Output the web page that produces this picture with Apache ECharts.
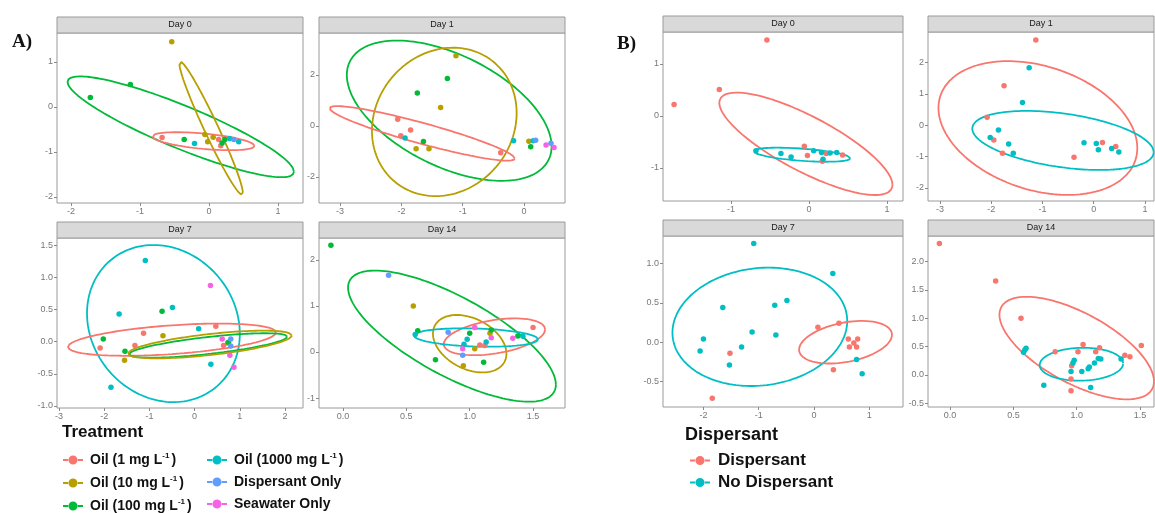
<!DOCTYPE html>
<html><head><meta charset="utf-8">
<script src="https://cdn.jsdelivr.net/npm/echarts@6/dist/echarts.min.js"></script>
<style>html,body{margin:0;padding:0;background:#fff}#c{width:1155px;height:513px}</style>
</head><body><div id="c"></div>
<script>
// ---------- categories ----------
const TREATMENTS = ['Oil (1 mg L-1)','Oil (10 mg L-1)','Oil (100 mg L-1)','Oil (1000 mg L-1)','Dispersant Only','Seawater Only'];
const DISPERSANT = ['Dispersant','No Dispersant'];
const DAYS = ['Day 0','Day 1','Day 7','Day 14'];

// ---------- tick labels ----------
const A_D0_XT = ['-2','-1','0','1'];           const A_D0_YT = ['-2','-1','0','1'];
const A_D1_XT = ['-3','-2','-1','0'];          const A_D1_YT = ['-2','0','2'];
const A_D7_XT = ['-3','-2','-1','0','1','2'];  const A_D7_YT = ['-1.0','-0.5','0.0','0.5','1.0','1.5'];
const A_D14_XT = ['0.0','0.5','1.0','1.5'];    const A_D14_YT = ['-1','0','1','2'];
const B_D0_XT = ['-1','0','1'];                const B_D0_YT = ['-1','0','1'];
const B_D1_XT = ['-3','-2','-1','0','1'];      const B_D1_YT = ['-2','-1','0','1','2','3'];
const B_D7_XT = ['-2','-1','0','1'];           const B_D7_YT = ['-0.5','0.0','0.5','1.0'];
const B_D14_XT = ['0.0','0.5','1.0','1.5'];    const B_D14_YT = ['-0.5','0.0','0.5','1.0','1.5','2.0'];

// ---------- points [x, y, group] ----------
const A_DAY0 = [[-1.72,0.21,2],[-1.14,0.50,2],[-0.54,1.45,1],[-0.68,-0.68,0],[-0.36,-0.72,2],[-0.21,-0.81,3],
  [-0.06,-0.61,1],[-0.02,-0.77,1],[0.06,-0.67,1],[0.14,-0.72,0],[0.17,-0.86,0],[0.19,-0.80,2],[0.23,-0.72,2],
  [0.30,-0.70,3],[0.36,-0.72,4],[0.43,-0.77,3]];
const A_DAY1 = [[-1.11,2.75,1],[-1.25,1.86,2],[-1.74,1.29,2],[-1.36,0.73,1],[-2.06,0.26,0],[-1.85,-0.16,0],
  [-2.01,-0.38,0],[-1.94,-0.47,3],[-1.64,-0.61,2],[-1.76,-0.89,1],[-1.55,-0.89,1],[-0.38,-1.05,0],[-0.17,-0.58,3],
  [0.08,-0.60,1],[0.11,-0.81,2],[0.15,-0.58,3],[0.19,-0.56,4],[0.36,-0.75,5],[0.44,-0.68,4],[0.49,-0.84,5]];
const A_DAY7 = [[-1.09,1.26,3],[0.35,0.87,5],[-1.67,0.43,3],[-0.72,0.47,2],[-0.49,0.53,3],[0.09,0.20,3],[0.47,0.24,0],
  [-1.13,0.13,0],[-0.70,0.09,1],[-2.02,0.04,2],[-2.09,-0.10,0],[-1.32,-0.06,0],[-1.54,-0.15,2],[-1.55,-0.29,1],
  [-1.85,-0.71,3],[0.36,-0.35,3],[0.61,0.04,5],[0.80,0.04,4],[0.64,-0.06,0],[0.73,-0.02,1],[0.75,-0.01,2],
  [0.80,-0.07,4],[0.78,-0.21,5],[0.87,-0.40,5]];
const A_DAY14 = [[-0.095,2.32,2],[0.36,1.67,4],[0.555,1.0,1],[0.59,0.46,2],[0.57,0.38,3],[0.83,0.43,4],[1.04,0.53,5],
  [1.0,0.41,2],[0.98,0.28,3],[0.955,0.17,3],[0.945,0.07,5],[0.945,-0.07,4],[0.95,-0.30,1],[1.04,0.07,1],[1.08,0.15,0],
  [1.12,0.14,0],[1.16,0.41,1],[1.17,0.48,2],[1.17,0.31,5],[1.13,0.22,3],[0.73,-0.17,2],[1.11,-0.22,2],[1.34,0.30,5],
  [1.38,0.35,2],[1.42,0.34,3],[1.50,0.53,0]];
const B_DAY0 = [[-0.54,1.46,0],[-1.15,0.51,0],[-1.73,0.22,0],[-0.68,-0.67,1],[-0.36,-0.72,1],[-0.23,-0.79,1],
  [-0.06,-0.58,0],[-0.02,-0.76,0],[0.06,-0.67,1],[0.16,-0.70,1],[0.22,-0.72,0],[0.18,-0.83,1],[0.17,-0.87,0],
  [0.27,-0.71,1],[0.355,-0.70,1],[0.43,-0.75,0]];
const B_DAY1 = [[-1.13,2.71,0],[-1.26,1.83,1],[-1.75,1.26,0],[-1.39,0.72,1],[-2.08,0.25,0],[-1.86,-0.15,1],
  [-2.02,-0.39,1],[-1.95,-0.47,0],[-1.66,-0.60,1],[-1.78,-0.89,0],[-1.57,-0.89,1],[-0.385,-1.02,0],[-0.19,-0.56,1],
  [0.05,-0.58,1],[0.17,-0.55,0],[0.09,-0.78,1],[0.35,-0.74,1],[0.43,-0.68,0],[0.49,-0.85,1]];
const B_DAY7 = [[-1.09,1.25,1],[0.34,0.87,1],[-1.65,0.44,1],[-0.71,0.47,1],[-0.49,0.53,1],[-1.12,0.13,1],[-0.69,0.09,1],
  [-2.0,0.04,1],[-2.06,-0.11,1],[-1.52,-0.14,0],[-1.31,-0.06,1],[-1.53,-0.29,1],[-1.84,-0.71,0],[0.07,0.19,0],
  [0.45,0.24,0],[0.62,0.04,0],[0.79,0.04,0],[0.64,-0.06,0],[0.72,-0.01,0],[0.77,-0.06,0],[0.77,-0.22,1],
  [0.87,-0.40,1],[0.35,-0.35,0]];
const B_DAY14 = [[-0.084,2.32,0],[0.36,1.66,0],[0.56,1.0,0],[0.58,0.40,1],[0.59,0.44,1],[0.60,0.47,1],[0.83,0.41,0],
  [1.05,0.54,0],[1.01,0.41,0],[1.18,0.48,0],[1.15,0.41,0],[0.98,0.26,1],[0.97,0.21,1],[0.96,0.165,0],[0.955,0.06,1],
  [0.955,-0.07,0],[0.955,-0.28,0],[1.04,0.06,1],[1.09,0.11,1],[1.10,0.14,1],[1.14,0.21,1],[1.17,0.29,1],[1.19,0.28,1],
  [1.35,0.28,1],[1.38,0.35,0],[1.42,0.32,0],[1.51,0.52,0],[0.74,-0.18,1],[1.11,-0.22,1]];

// ---------- ellipses [group, centreX, centreY, halfRangeX, halfRangeY, correlation] ----------
const A_DAY0_ELL = [[2,-0.41,-0.44,1.64,1.12,-0.89],[1,0.03,-0.47,0.46,1.48,-0.97],[0,-0.08,-0.76,0.74,0.20,-0.52]];
const A_DAY1_ELL = [[2,-1.22,0.60,1.67,2.75,-0.51],[1,-1.30,0.16,1.18,2.91,0.12],[0,-1.66,-0.29,1.51,1.07,-0.92]];
const A_DAY7_ELL = [[3,-0.69,0.28,1.69,1.22,-0.13],[0,-0.50,0.03,2.30,0.25,0.45],[2,0.30,-0.06,1.75,0.19,0.72],[1,0.34,-0.045,1.81,0.215,0.65]];
const A_DAY14_ELL = [[2,0.86,0.345,0.82,1.425,-0.74],[1,1.0,0.18,0.29,0.625,-0.35],[0,1.195,0.33,0.40,0.40,0.4],[3,1.05,0.315,0.49,0.2,-0.2]];
const B_DAY0_ELL = [[0,-0.04,-0.535,1.11,0.985,-0.8],[1,-0.09,-0.745,0.62,0.135,-0.5]];
const B_DAY1_ELL = [[0,-1.09,-0.09,1.94,2.13,-0.3],[1,-0.60,-0.485,1.77,0.94,-0.4]];
const B_DAY7_ELL = [[1,-0.98,0.195,1.58,0.75,0.1],[0,0.57,0.0,0.84,0.27,0.35]];
const B_DAY14_ELL = [[0,1.0,0.475,0.61,0.905,-0.65],[1,1.037,0.19,0.33,0.29,0.05]];

// ---------- styles / layout ----------
const PAL_A = ['#F8766D','#B79F00','#00BA38','#00BFC4','#619CFF','#F564E3'];
const PAL_B = ['#F8766D','#00BFC4'];
const FONT = "'Liberation Sans', Arial, sans-serif";

const PANELS = [
  {day:0, names:TREATMENTS, pal:PAL_A, rect:[57,33,246,170],  x:[-2.203,1.362], y:[-2.133,1.644], xt:A_D0_XT, yt:A_D0_YT, pts:A_DAY0, ell:A_DAY0_ELL},
  {day:1, names:TREATMENTS, pal:PAL_A, rect:[319,33,246,170], x:[-3.344,0.669], y:[-3.02,3.647],  xt:A_D1_XT, yt:A_D1_YT, pts:A_DAY1, ell:A_DAY1_ELL},
  {day:2, names:TREATMENTS, pal:PAL_A, rect:[57,238,246,170], x:[-3.044,2.398], y:[-1.031,1.609], xt:A_D7_XT, yt:A_D7_YT, pts:A_DAY7, ell:A_DAY7_ELL},
  {day:3, names:TREATMENTS, pal:PAL_A, rect:[319,238,246,170],x:[-0.189,1.752], y:[-1.217,2.478], xt:A_D14_XT, yt:A_D14_YT, pts:A_DAY14, ell:A_DAY14_ELL},
  {day:0, names:DISPERSANT, pal:PAL_B, rect:[663,32,240,169], x:[-1.872,1.205], y:[-1.635,1.615], xt:B_D0_XT, yt:B_D0_YT, pts:B_DAY0, ell:B_DAY0_ELL},
  {day:1, names:DISPERSANT, pal:PAL_B, rect:[928,32,226,169], x:[-3.234,1.176], y:[-2.414,2.968], xt:B_D1_XT, yt:B_D1_YT, pts:B_DAY1, ell:B_DAY1_ELL},
  {day:2, names:DISPERSANT, pal:PAL_B, rect:[663,236,240,171],x:[-2.731,1.609], y:[-0.821,1.346], xt:B_D7_XT, yt:B_D7_YT, pts:B_DAY7, ell:B_DAY7_ELL},
  {day:3, names:DISPERSANT, pal:PAL_B, rect:[928,236,226,171],x:[-0.174,1.61],  y:[-0.565,2.453], xt:B_D14_XT, yt:B_D14_YT, pts:B_DAY14, ell:B_DAY14_ELL}
];

function ellipsePts(cx, cy, hx, hy, r) {
  const s = Math.sqrt(Math.max(0, 1 - r * r));
  const out = [];
  const n = 160;
  for (let i = 0; i <= n; i++) {
    const t = 2 * Math.PI * i / n;
    out.push([cx + hx * Math.cos(t), cy + hy * (r * Math.cos(t) + s * Math.sin(t))]);
  }
  return out;
}
function tickAxis(labels) {
  const vals = labels.map(Number);
  return {
    vals,
    fmt: v => { let best = labels[0], bd = 1e9; labels.forEach((l, i) => { const d = Math.abs(vals[i] - v); if (d < bd) { bd = d; best = l; } }); return best; }
  };
}

const grids = [], xAxes = [], yAxes = [], series = [], graphics = [];
const BORDER = '#9a9a9a';
PANELS.forEach((p, i) => {
  const [l, t, w, h] = p.rect;
  grids.push({left:l, top:t, width:w, height:h, show:true, borderColor:BORDER, borderWidth:1, backgroundColor:'#fff', containLabel:false});
  const xt = tickAxis(p.xt), yt = tickAxis(p.yt);
  const common = {
    type:'value', gridIndex:i, scale:true,
    axisLine:{show:false, onZero:false},
    splitLine:{show:false},
    axisTick:{show:true, length:3, lineStyle:{color:'#8a8a8a', width:1}},
    axisLabel:{fontSize:9, color:'#777', fontFamily:FONT, margin:4}
  };
  xAxes.push(Object.assign({}, common, {min:p.x[0], max:p.x[1], position:'bottom',
    axisTick:Object.assign({}, common.axisTick, {customValues:xt.vals}),
    axisLabel:Object.assign({}, common.axisLabel, {customValues:xt.vals, formatter:xt.fmt})}));
  yAxes.push(Object.assign({}, common, {min:p.y[0], max:p.y[1], position:'left',
    axisTick:Object.assign({}, common.axisTick, {customValues:yt.vals}),
    axisLabel:Object.assign({}, common.axisLabel, {customValues:yt.vals, formatter:yt.fmt})}));
  // strip
  graphics.push({type:'rect', shape:{x:l, y:t - 16, width:w, height:16}, style:{fill:'#D9D9D9', stroke:BORDER, lineWidth:1}, silent:true, z:10});
  graphics.push({type:'text', x:l + w / 2, y:t - 8, style:{text:DAYS[p.day], fontSize:9, fontFamily:FONT, fill:'#1a1a1a', align:'center', verticalAlign:'middle'}, silent:true, z:11});
  // points
  p.names.forEach((nm, g) => {
    const d = p.pts.filter(q => q[2] === g).map(q => [q[0], q[1]]);
    if (d.length) series.push({type:'scatter', name:nm, xAxisIndex:i, yAxisIndex:i, data:d, symbolSize:5.5,
      itemStyle:{color:p.pal[g], opacity:1}, z:3});
  });
  // ellipses
  p.ell.forEach(e => {
    series.push({type:'line', name:p.names[e[0]], xAxisIndex:i, yAxisIndex:i, data:ellipsePts(e[1], e[2], e[3], e[4], e[5]),
      showSymbol:false, symbol:'none', smooth:false, clip:true, silent:true,
      lineStyle:{color:p.pal[e[0]], width:1.8}, itemStyle:{color:p.pal[e[0]]}, z:2});
  });
});

// panel letters + legend titles
graphics.push({type:'text', x:12, y:42, style:{text:'A)', fontSize:19, fontWeight:'bold', fontFamily:"'Liberation Serif', 'DejaVu Serif', serif", fill:'#111', verticalAlign:'middle'}});
graphics.push({type:'text', x:617, y:44, style:{text:'B)', fontSize:19, fontWeight:'bold', fontFamily:"'Liberation Serif', 'DejaVu Serif', serif", fill:'#111', verticalAlign:'middle'}});
graphics.push({type:'text', x:62, y:432, style:{text:'Treatment', fontSize:17, fontWeight:'bold', fontFamily:FONT, fill:'#111', verticalAlign:'middle'}});
graphics.push({type:'text', x:685, y:435, style:{text:'Dispersant', fontSize:18, fontWeight:'bold', fontFamily:FONT, fill:'#111', verticalAlign:'middle'}});

const ICON = 'path://M0,4 H6 V6 H0 Z M14,4 H20 V6 H14 Z M5.5,5 A4.5,4.5 0 1,0 14.5,5 A4.5,4.5 0 1,0 5.5,5 Z';
function fmtSup(name) {
  const m = name.match(/^(.*L)-1\)$/);
  return m ? '{b|' + m[1] + '}{s|-1}{b|)}' : '{b|' + name + '}';
}
function legendA(names, left) {
  return {data:names.map(n => ({name:n, icon:ICON})), left:left, top:452, orient:'vertical', padding:0,
    itemWidth:20, itemHeight:10, itemGap:8, selectedMode:false, formatter:fmtSup,
    textStyle:{fontSize:14, fontWeight:'bold', color:'#111', fontFamily:FONT,
      rich:{b:{fontSize:14, fontWeight:'bold', color:'#111', fontFamily:FONT, lineHeight:16, padding:[0,0,0,2]},
            s:{fontSize:8, fontWeight:'bold', color:'#111', fontFamily:FONT, lineHeight:9, verticalAlign:'top'}}}};
}
const legendB = {data:DISPERSANT.map(n => ({name:n, icon:ICON})), left:690, top:452, orient:'vertical', padding:0,
  itemWidth:20, itemHeight:10, itemGap:5, selectedMode:false,
  formatter: n => '{b|' + n + '}',
  textStyle:{fontSize:17, fontWeight:'bold', color:'#111', fontFamily:FONT,
    rich:{b:{fontSize:17, fontWeight:'bold', color:'#111', fontFamily:FONT, lineHeight:18, padding:[0,0,0,3]}}}};

const chart = echarts.init(document.getElementById('c'), null, {renderer:'canvas'});
chart.setOption({
  animation:false,
  backgroundColor:'#fff',
  grid:grids, xAxis:xAxes, yAxis:yAxes, series:series,
  legend:[legendA(TREATMENTS.slice(0,3), 63), legendA(TREATMENTS.slice(3), 207), legendB],
  graphic:graphics
});
</script></body></html>
